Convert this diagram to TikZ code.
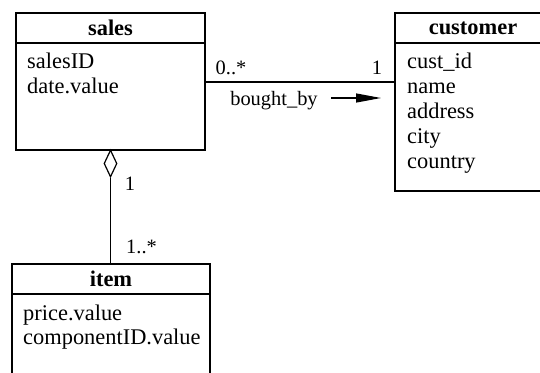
\documentclass[tikz,border=0pt]{standalone}
\usepackage{fontspec}
\setmainfont{Liberation Serif}
\usetikzlibrary{arrows.meta,shapes.geometric}
\tikzset{
  lw/.style={line width=1.2bp},
  box/.style={draw, lw, inner sep=0pt, outer sep=0pt, anchor=north west},
  hdr/.style={box, font=\fontsize{22.5}{25}\selectfont\bfseries},
  attr/.style={anchor=base west, inner sep=0pt, font=\fontsize{22.5}{25}\selectfont},
  lbl/.style={anchor=base, inner sep=0pt, font=\fontsize{20.5}{24}\selectfont},
  aggr/.style={draw, lw, diamond, inner sep=0pt, minimum width=13bp, minimum height=27bp, fill=white}
}
\begin{document}
\begin{tikzpicture}[x=1bp,y=-1bp]
\clip (0,0) rectangle (540,372);
\fill[white] (0,0) rectangle (540,372);
% sales
\node[hdr, minimum width=189bp, minimum height=30bp] (salesH) at (16,13) {sales};
\node[box, minimum width=189bp, minimum height=107bp] (salesB) at (16,43) {};
\node[attr] (s1) at (27,68) {salesID};
\node[attr] (s2) at (27,93) {date.value};
% customer
\node[hdr, minimum width=156bp, minimum height=30bp] (custH) at (395,13) {customer};
\node[box, minimum width=156bp, minimum height=148bp] (custB) at (395,43) {};
\node[attr] (c1) at (407,68) {cust\_id};
\node[attr] (c2) at (407,93) {name};
\node[attr] (c3) at (407,118) {address};
\node[attr] (c4) at (407,143) {city};
\node[attr] (c5) at (407,168) {country};
% item
\node[hdr, minimum width=198bp, minimum height=30bp] (itemH) at (12,264) {item};
\node[box, minimum width=198bp, minimum height=120bp] (itemB) at (12,294) {};
\node[attr] (i1) at (23,320) {price.value};
\node[attr] (i2) at (23,344) {componentID.value};
% association
\coordinate (assoc) at (300,82);
\draw[lw] (salesB.east |- assoc) -- (custB.west |- assoc);
\node[lbl] (m1) at (231,74) {0..*};
\node[lbl] (m2) at (377,74) {1};
\node[lbl] (bb) at (274,105) {bought\_by};
\coordinate (arS) at (331,98);
\coordinate (arE) at (381,98);
\draw[lw, -{Triangle[length=25bp,width=9bp]}] (arS) -- (arE);
% aggregation
\node[aggr] (dia) at (110.5,163.5) {};
\draw[lw] (dia.south) -- (dia.south |- itemH.north);
\node[lbl] (m3) at (130,190) {1};
\node[lbl] (m4) at (141.5,253) {1..*};
\end{tikzpicture}
\end{document}
